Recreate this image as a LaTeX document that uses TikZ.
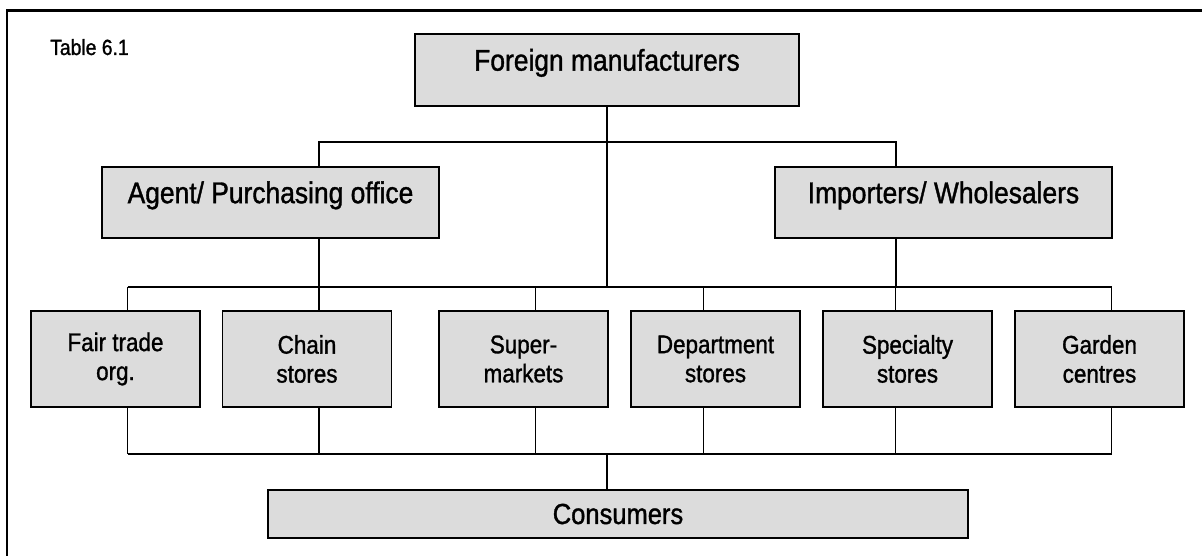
\documentclass[tikz,border=0pt]{standalone}
\usepackage{fontspec}
\setmainfont[FakeStretch=0.88, FakeBold=1.2]{Liberation Sans}
\usepackage{xcolor}
\usetikzlibrary{positioning,calc}

\definecolor{boxgray}{HTML}{DCDCDC}

\begin{document}
\begin{tikzpicture}[
  x=1pt, y=-1pt,
  chan/.style={draw=black, line width=1.8pt, fill=boxgray, inner sep=0pt, align=center},
  bigbox/.style={chan, minimum height=72pt, font=\fontsize{30}{34}\selectfont,
                 text height=0.75em, text depth=0.62em},
  shopbox/.style={chan, minimum width=169pt, minimum height=96pt,
                  font=\fontsize{25.5}{29}\selectfont},
  link/.style={line width=1.6pt}
]
  \useasboundingbox (0,0) rectangle (1202,556);

  % Frame and caption
  \draw[line width=2.7pt] (7,560) -- (7,10.5) -- (1206,10.5);
  \node[anchor=base west, inner sep=0pt, font=\fontsize{22}{24}\selectfont] (caption) at (50,55) {Table 6.1};

  % Nodes
  \node[bigbox, minimum width=384pt] (fm) at (607,70) {Foreign manufacturers};
  \node[bigbox, minimum width=337pt, minimum height=71pt] (agent) at (270.5,202.5) {Agent/ Purchasing office};
  \node[bigbox, minimum width=337pt, minimum height=71pt] (imp) at (943.5,202.5) {Importers/ Wholesalers};

  \node[shopbox] (fair) at (115.5,359) {Fair trade\\org.};
  \node[shopbox] (chain) at (307,359) {Chain\\stores};
  \node[shopbox] (super) at (523.5,359) {Super-\\markets};
  \node[shopbox] (dept) at (715.5,359) {Department\\stores};
  \node[shopbox] (spec) at (907.5,359) {Specialty\\stores};
  \node[shopbox] (garden) at (1099.5,359) {Garden\\centres};

  \node[chan, minimum width=700pt, minimum height=48pt, font=\fontsize{29}{32}\selectfont] (cons) at (618,514) {Consumers};

  \coordinate (upbus) at (0,287);
  \coordinate (lowbus) at (0,454);

  % Lines
  \draw[link] ([xshift=48.5pt]agent.north) -- ++(0,-24) -| ([xshift=-47.5pt]imp.north);
  \draw[link] (fm.south) -- (fm.south |- upbus);
  \draw[link] ([xshift=48.5pt]agent.south) -- ([xshift=48.5pt]agent.south |- upbus);
  \draw[link] ([xshift=-47.5pt]imp.south) -- ([xshift=-47.5pt]imp.south |- upbus);

  \draw[link] ([xshift=12pt]fair.north |- upbus) -- ([xshift=12pt]garden.north |- upbus);
  \draw[link] ([xshift=12pt]fair.south |- lowbus) -- ([xshift=12pt]garden.south |- lowbus);
  \foreach \n/\dx in {fair/12,chain/12,super/12,dept/-12,spec/-12,garden/12} {
    \draw[link] ([xshift=\dx pt]\n.north) -- ([xshift=\dx pt]\n.north |- upbus);
    \draw[link] ([xshift=\dx pt]\n.south) -- ([xshift=\dx pt]\n.south |- lowbus);
  }
  \draw[link] (cons.north -| fm.south) -- (fm.south |- lowbus);
\end{tikzpicture}
\end{document}
